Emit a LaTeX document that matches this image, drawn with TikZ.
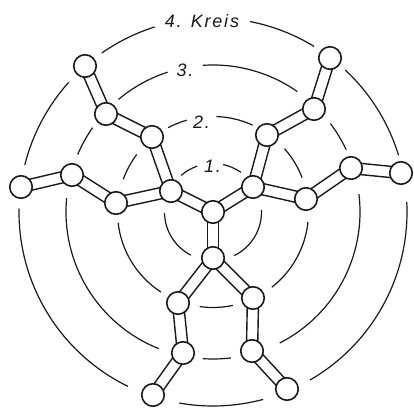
\documentclass[tikz,border=0pt]{standalone}
\usepackage{fontspec}
\setmainfont{Liberation Sans}
\usetikzlibrary{calc,backgrounds}
\definecolor{ink}{HTML}{1A1A1A}
\newcommand\mybond[2]{%
  \draw[bondline] ($(#1)!5.6pt!90:(#2)$) -- ($(#2)!5.6pt!-90:(#1)$);
  \draw[bondline] ($(#1)!5.6pt!-90:(#2)$) -- ($(#2)!5.6pt!90:(#1)$);}
\newcommand\ringarc[3]{\draw[ring] ([shift={(#1:#3pt)}]C) arc[start angle=#1,end angle=#2,radius=#3pt];}
\begin{document}
\begin{tikzpicture}[x=1pt,y=1pt,
  atom/.style={circle,draw=ink,fill=white,line width=1.6pt,minimum size=22.5pt,inner sep=0pt},
  ring/.style={draw=ink,line width=1.2pt},
  bondline/.style={draw=ink,line width=1.4pt},
  lbl/.style={font=\fontsize{18}{20}\selectfont\itshape\addfontfeature{LetterSpace=10},text=ink,inner sep=0pt}]
\useasboundingbox (0,0) rectangle (414,409);
\coordinate (C) at (213,197);
% atoms
\node[atom] (a0) at (213,197) {};
\node[atom] (b1) at (213,151) {};
\node[atom] (bL) at (171,218) {};
\node[atom] (bR) at (253,222) {};
\node[atom] (cdl) at (178,106) {};
\node[atom] (cdr) at (253,111) {};
\node[atom] (cul) at (152,272) {};
\node[atom] (clu) at (116,206) {};
\node[atom] (cru) at (267,274) {};
\node[atom] (crr) at (306,210) {};
\node[atom] (ddl) at (183,56) {};
\node[atom] (ddr) at (252,58) {};
\node[atom] (dul) at (106,295) {};
\node[atom] (dlu) at (72,234) {};
\node[atom] (dru) at (314,300) {};
\node[atom] (drr) at (351,241) {};
\node[atom] (edl) at (153,14) {};
\node[atom] (edr) at (287,20) {};
\node[atom] (eul) at (85,343) {};
\node[atom] (elu) at (21,222) {};
\node[atom] (eru) at (330,351) {};
\node[atom] (err) at (401,236) {};
% labels
\node[lbl] (l1) at (212.5,243) {1.};
\node[lbl] (l2) at (201.5,286.5) {2.};
\node[lbl] (l3) at (185,339) {3.};
\node[lbl] (l4) at (202,387.5) {4. Kreis};
\begin{pgfonlayer}{background}
\fill[white] (0,0) rectangle (414,409);
% circle 1
\ringarc{109}{131}{48.5}
\ringarc{55}{78}{48.5}
\ringarc{181}{243}{48.5}
\ringarc{-64}{2.4}{48.5}
% circle 2
\ringarc{106}{118}{95.5}
\ringarc{65.4}{88}{95.5}
\ringarc{143}{160}{95.5}
\ringarc{186.5}{237}{95.5}
\ringarc{-98}{-78}{95.5}
\ringarc{-52}{-6}{95.5}
\ringarc{21}{41.5}{95.5}
% circle 3
\ringarc{108}{130}{147}
\ringarc{55}{94}{147}
\ringarc{145}{157}{147}
\ringarc{174.6}{248.4}{147}
\ringarc{-94}{-83}{147}
\ringarc{-63}{7}{147}
\ringarc{25}{37}{147}
% circle 4
\ringarc{107.5}{125}{194}
\ringarc{58.6}{79}{194}
\ringarc{138}{166}{194}
\ringarc{179}{244}{194}
\ringarc{-100}{-75}{194}
\ringarc{-60}{3}{194}
\ringarc{17}{47}{194}
% bonds
\mybond{a0}{b1}
\mybond{a0}{bL}
\mybond{a0}{bR}
\mybond{b1}{cdl}
\mybond{b1}{cdr}
\mybond{cdl}{ddl}
\mybond{ddl}{edl}
\mybond{cdr}{ddr}
\mybond{ddr}{edr}
\mybond{bL}{cul}
\mybond{cul}{dul}
\mybond{dul}{eul}
\mybond{bL}{clu}
\mybond{clu}{dlu}
\mybond{dlu}{elu}
\mybond{bR}{cru}
\mybond{cru}{dru}
\mybond{dru}{eru}
\mybond{bR}{crr}
\mybond{crr}{drr}
\mybond{drr}{err}
\end{pgfonlayer}
\end{tikzpicture}
\end{document}
